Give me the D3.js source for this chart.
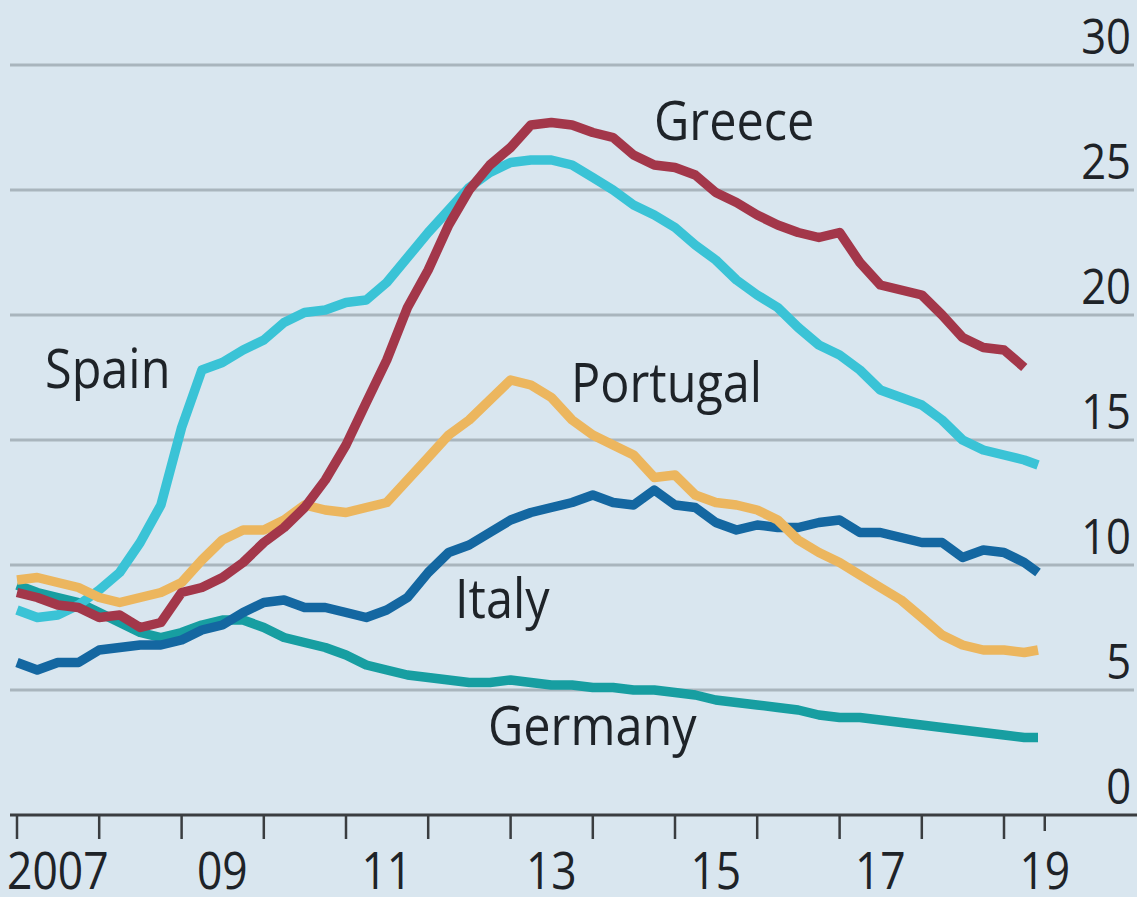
<!DOCTYPE html>
<html>
<head>
<meta charset="utf-8">
<script src="https://cdn.jsdelivr.net/npm/d3@7"></script>
<style>
  html, body { margin: 0; padding: 0; background: #d9e6ef; }
  svg { display: block; }
  text { font-family: "Open Sans", sans-serif; fill: #1e2328; }
</style>
</head>
<body>
<div id="chart"></div>
<script>
// quarterly observations, last one is June 2019
const dates = [
  "2007-01", "2007-04", "2007-07", "2007-10",
  "2008-01", "2008-04", "2008-07", "2008-10",
  "2009-01", "2009-04", "2009-07", "2009-10",
  "2010-01", "2010-04", "2010-07", "2010-10",
  "2011-01", "2011-04", "2011-07", "2011-10",
  "2012-01", "2012-04", "2012-07", "2012-10",
  "2013-01", "2013-04", "2013-07", "2013-10",
  "2014-01", "2014-04", "2014-07", "2014-10",
  "2015-01", "2015-04", "2015-07", "2015-10",
  "2016-01", "2016-04", "2016-07", "2016-10",
  "2017-01", "2017-04", "2017-07", "2017-10",
  "2018-01", "2018-04", "2018-07", "2018-10",
  "2019-01", "2019-04", "2019-06"
];

const greece = [
  8.9, 8.7, 8.4, 8.3, 7.9, 8.0, 7.5, 7.7, 8.9, 9.1, 9.5, 10.1,
  10.9, 11.5, 12.3, 13.4, 14.8, 16.5, 18.2, 20.3, 21.8, 23.6, 25.0, 26.0,
  26.7, 27.6, 27.7, 27.6, 27.3, 27.1, 26.4, 26.0, 25.9, 25.6, 24.9, 24.5,
  24.0, 23.6, 23.3, 23.1, 23.3, 22.1, 21.2, 21.0, 20.8, 20.0, 19.1, 18.7,
  18.6, 17.9, null
];
const spain = [
  8.2, 7.9, 8.0, 8.4, 9.0, 9.7, 10.9, 12.4, 15.5, 17.8, 18.1, 18.6,
  19.0, 19.7, 20.1, 20.2, 20.5, 20.6, 21.3, 22.3, 23.3, 24.2, 25.1, 25.7,
  26.1, 26.2, 26.2, 26.0, 25.5, 25.0, 24.4, 24.0, 23.5, 22.8, 22.2, 21.4,
  20.8, 20.3, 19.5, 18.8, 18.4, 17.8, 17.0, 16.7, 16.4, 15.8, 15.0, 14.6,
  14.4, 14.2, 14.0
];
const portugal = [
  9.4, 9.5, 9.3, 9.1, 8.7, 8.5, 8.7, 8.9, 9.3, 10.2, 11.0, 11.4,
  11.4, 11.8, 12.4, 12.2, 12.1, 12.3, 12.5, 13.4, 14.3, 15.2, 15.8, 16.6,
  17.4, 17.2, 16.7, 15.8, 15.2, 14.8, 14.4, 13.5, 13.6, 12.8, 12.5, 12.4,
  12.2, 11.8, 11.0, 10.5, 10.1, 9.6, 9.1, 8.6, 7.9, 7.2, 6.8, 6.6,
  6.6, 6.5, 6.6
];
const italy = [
  6.1, 5.8, 6.1, 6.1, 6.6, 6.7, 6.8, 6.8, 7.0, 7.4, 7.6, 8.1,
  8.5, 8.6, 8.3, 8.3, 8.1, 7.9, 8.2, 8.7, 9.7, 10.5, 10.8, 11.3,
  11.8, 12.1, 12.3, 12.5, 12.8, 12.5, 12.4, 13.0, 12.4, 12.3, 11.7, 11.4,
  11.6, 11.5, 11.5, 11.7, 11.8, 11.3, 11.3, 11.1, 10.9, 10.9, 10.3, 10.6,
  10.5, 10.1, 9.7
];
const germany = [
  9.2, 8.9, 8.7, 8.5, 8.1, 7.7, 7.3, 7.1, 7.3, 7.6, 7.8, 7.8,
  7.5, 7.1, 6.9, 6.7, 6.4, 6.0, 5.8, 5.6, 5.5, 5.4, 5.3, 5.3,
  5.4, 5.3, 5.2, 5.2, 5.1, 5.1, 5.0, 5.0, 4.9, 4.8, 4.6, 4.5,
  4.4, 4.3, 4.2, 4.0, 3.9, 3.9, 3.8, 3.7, 3.6, 3.5, 3.4, 3.3,
  3.2, 3.1, 3.1
];

const yTicks = [0, 5, 10, 15, 20, 25, 30];
const yearTicks = ["2007", "2008", "2009", "2010", "2011", "2012", "2013",
  "2014", "2015", "2016", "2017", "2018", "2019"];
const yearLabels = ["2007", "09", "11", "13", "15", "17", "19"];

const series = [
  { name: "Germany", values: germany, color: "#179ea1", label: [488, 745] },
  { name: "Italy", values: italy, color: "#1467a1", label: [455, 618] },
  { name: "Spain", values: spain, color: "#3ac3d6", label: [45, 388] },
  { name: "Portugal", values: portugal, color: "#ecb65e", label: [571, 402] },
  { name: "Greece", values: greece, color: "#a3374a", label: [654, 140] },
];

const width = 1137, height = 897;
const squeeze = 0.87; // the original type is narrower than Open Sans
const parseMonth = d3.timeParse("%Y-%m");
const parseYear = d3.timeParse("%Y");

const svg = d3.select("#chart").append("svg")
  .attr("width", width)
  .attr("height", height);

svg.append("rect")
  .attr("width", width)
  .attr("height", height)
  .attr("fill", "#d9e6ef");

const x = d3.scaleTime()
  .domain([parseYear("2007"), parseYear("2019")])
  .range([17, 1004]);

const y = d3.scaleLinear()
  .domain([0, 30])
  .range([815, 65]);

// gridlines + right-hand labels
const grid = svg.append("g");
grid.selectAll("line")
  .data(yTicks.filter((d) => d > 0))
  .enter()
  .append("line")
  .attr("x1", 10)
  .attr("x2", 1134)
  .attr("y1", (d) => y(d))
  .attr("y2", (d) => y(d))
  .attr("stroke", "#a9b5bd")
  .attr("stroke-width", 3);

grid.selectAll("text")
  .data(yTicks)
  .enter()
  .append("text")
  .attr("transform", (d) => `translate(1131,${y(d) - 11}) scale(${squeeze},1)`)
  .attr("text-anchor", "end")
  .attr("font-size", 50)
  .text((d) => d);

// x axis
const axis = svg.append("g");
axis.append("line")
  .attr("x1", 10)
  .attr("x2", 1137)
  .attr("y1", y(0))
  .attr("y2", y(0))
  .attr("stroke", "#3a3d40")
  .attr("stroke-width", 3);

axis.selectAll(".tick")
  .data(yearTicks)
  .enter()
  .append("line")
  .attr("x1", (d) => x(parseYear(d)))
  .attr("x2", (d) => x(parseYear(d)))
  .attr("y1", y(0))
  .attr("y2", y(0) + 24)
  .attr("stroke", "#3a3d40")
  .attr("stroke-width", 2.5);

// short tick for the part-year
const partYear = parseMonth("2019-07");
axis.append("line")
  .attr("x1", x(partYear))
  .attr("x2", x(partYear))
  .attr("y1", y(0))
  .attr("y2", y(0) + 16)
  .attr("stroke", "#3a3d40")
  .attr("stroke-width", 2.5);

// labels sit in the middle of each year span
axis.selectAll("text")
  .data(yearLabels)
  .enter()
  .append("text")
  .attr("transform", (d) => {
    const yr = d.length === 4 ? d : "20" + d;
    return `translate(${x(parseMonth(yr + "-07"))},889) scale(${squeeze},1)`;
  })
  .attr("text-anchor", "middle")
  .attr("font-size", 51)
  .text((d) => d);

// lines
const line = d3.line()
  .defined((d) => d[1] !== null)
  .x((d) => x(d[0]))
  .y((d) => y(d[1]));

series.forEach((s) => {
  const pts = dates.map((d, i) => [parseMonth(d), s.values[i]]);
  svg.append("path")
    .datum(pts)
    .attr("fill", "none")
    .attr("stroke", s.color)
    .attr("stroke-width", 9.5)
    .attr("stroke-linejoin", "round")
    .attr("d", line);
});

// country labels
svg.selectAll(".country")
  .data(series)
  .enter()
  .append("text")
  .attr("class", "country")
  .attr("transform", (d) => `translate(${d.label[0]},${d.label[1]}) scale(0.9,1)`)
  .attr("font-size", 54)
  .text((d) => d.name);
</script>
</body>
</html>
